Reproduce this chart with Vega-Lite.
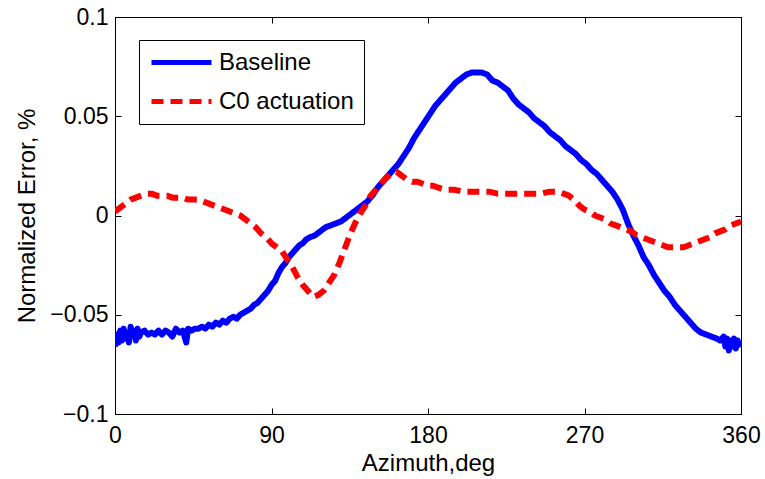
{
  "$schema": "https://vega.github.io/schema/vega-lite/v6.json",
  "autosize": "none",
  "width": 626,
  "height": 397,
  "padding": {"left": 115, "top": 17, "right": 24, "bottom": 65},
  "background": "white",
  "config": {
    "font": "Liberation Sans",
    "view": {"stroke": "black", "strokeWidth": 1},
    "axis": {"domainColor": "black", "tickColor": "black", "labelColor": "black", "titleColor": "black", "grid": false, "labelFont": "Liberation Sans", "titleFont": "Liberation Sans", "titleFontWeight": "normal"}
  },
  "data": {"values": [
    {"az":0,"err":-0.066,"series":"Baseline"},{"az":1,"err":-0.060,"series":"Baseline"},{"az":2,"err":-0.064,"series":"Baseline"},{"az":3,"err":-0.058,"series":"Baseline"},{"az":4,"err":-0.063,"series":"Baseline"},{"az":5,"err":-0.057,"series":"Baseline"},{"az":6,"err":-0.062,"series":"Baseline"},{"az":7,"err":-0.059,"series":"Baseline"},{"az":8,"err":-0.064,"series":"Baseline"},{"az":9,"err":-0.056,"series":"Baseline"},{"az":10,"err":-0.060,"series":"Baseline"},{"az":11,"err":-0.058,"series":"Baseline"},{"az":12,"err":-0.063,"series":"Baseline"},{"az":13,"err":-0.057,"series":"Baseline"},{"az":14,"err":-0.061,"series":"Baseline"},{"az":15,"err":-0.059,"series":"Baseline"},{"az":17,"err":-0.058,"series":"Baseline"},{"az":19,"err":-0.060,"series":"Baseline"},{"az":21,"err":-0.059,"series":"Baseline"},{"az":23,"err":-0.060,"series":"Baseline"},{"az":25,"err":-0.058,"series":"Baseline"},{"az":27,"err":-0.060,"series":"Baseline"},{"az":29,"err":-0.058,"series":"Baseline"},{"az":31,"err":-0.059,"series":"Baseline"},{"az":33,"err":-0.061,"series":"Baseline"},{"az":35,"err":-0.057,"series":"Baseline"},{"az":37,"err":-0.059,"series":"Baseline"},{"az":39,"err":-0.058,"series":"Baseline"},{"az":41,"err":-0.064,"series":"Baseline"},{"az":42,"err":-0.057,"series":"Baseline"},{"az":44,"err":-0.058,"series":"Baseline"},{"az":46,"err":-0.057,"series":"Baseline"},{"az":48,"err":-0.057,"series":"Baseline"},{"az":50,"err":-0.056,"series":"Baseline"},{"az":52,"err":-0.057,"series":"Baseline"},{"az":54,"err":-0.055,"series":"Baseline"},{"az":56,"err":-0.056,"series":"Baseline"},{"az":58,"err":-0.054,"series":"Baseline"},{"az":60,"err":-0.055,"series":"Baseline"},{"az":62,"err":-0.053,"series":"Baseline"},{"az":64,"err":-0.054,"series":"Baseline"},{"az":66,"err":-0.052,"series":"Baseline"},{"az":68,"err":-0.051,"series":"Baseline"},{"az":70,"err":-0.052,"series":"Baseline"},{"az":72,"err":-0.050,"series":"Baseline"},{"az":74,"err":-0.049,"series":"Baseline"},{"az":76,"err":-0.048,"series":"Baseline"},{"az":78,"err":-0.047,"series":"Baseline"},{"az":80,"err":-0.045,"series":"Baseline"},{"az":82,"err":-0.044,"series":"Baseline"},{"az":84,"err":-0.042,"series":"Baseline"},{"az":86,"err":-0.040,"series":"Baseline"},{"az":88,"err":-0.038,"series":"Baseline"},{"az":90,"err":-0.035,"series":"Baseline"},{"az":92,"err":-0.033,"series":"Baseline"},{"az":94,"err":-0.029,"series":"Baseline"},{"az":96,"err":-0.026,"series":"Baseline"},{"az":98,"err":-0.024,"series":"Baseline"},{"az":100,"err":-0.021,"series":"Baseline"},{"az":102,"err":-0.019,"series":"Baseline"},{"az":104,"err":-0.017,"series":"Baseline"},{"az":106,"err":-0.015,"series":"Baseline"},{"az":108,"err":-0.014,"series":"Baseline"},{"az":110,"err":-0.012,"series":"Baseline"},{"az":112,"err":-0.011,"series":"Baseline"},{"az":115,"err":-0.010,"series":"Baseline"},{"az":118,"err":-0.008,"series":"Baseline"},{"az":121,"err":-0.006,"series":"Baseline"},{"az":124,"err":-0.005,"series":"Baseline"},{"az":127,"err":-0.004,"series":"Baseline"},{"az":130,"err":-0.003,"series":"Baseline"},{"az":133,"err":-0.001,"series":"Baseline"},{"az":136,"err":0.001,"series":"Baseline"},{"az":139,"err":0.003,"series":"Baseline"},{"az":142,"err":0.005,"series":"Baseline"},{"az":145,"err":0.007,"series":"Baseline"},{"az":148,"err":0.010,"series":"Baseline"},{"az":151,"err":0.014,"series":"Baseline"},{"az":154,"err":0.017,"series":"Baseline"},{"az":157,"err":0.020,"series":"Baseline"},{"az":160,"err":0.023,"series":"Baseline"},{"az":163,"err":0.026,"series":"Baseline"},{"az":166,"err":0.030,"series":"Baseline"},{"az":169,"err":0.034,"series":"Baseline"},{"az":172,"err":0.039,"series":"Baseline"},{"az":175,"err":0.043,"series":"Baseline"},{"az":178,"err":0.047,"series":"Baseline"},{"az":181,"err":0.051,"series":"Baseline"},{"az":184,"err":0.055,"series":"Baseline"},{"az":187,"err":0.058,"series":"Baseline"},{"az":190,"err":0.061,"series":"Baseline"},{"az":193,"err":0.064,"series":"Baseline"},{"az":196,"err":0.067,"series":"Baseline"},{"az":199,"err":0.069,"series":"Baseline"},{"az":202,"err":0.071,"series":"Baseline"},{"az":205,"err":0.072,"series":"Baseline"},{"az":208,"err":0.072,"series":"Baseline"},{"az":211,"err":0.072,"series":"Baseline"},{"az":214,"err":0.071,"series":"Baseline"},{"az":217,"err":0.068,"series":"Baseline"},{"az":220,"err":0.067,"series":"Baseline"},{"az":223,"err":0.065,"series":"Baseline"},{"az":226,"err":0.063,"series":"Baseline"},{"az":229,"err":0.059,"series":"Baseline"},{"az":232,"err":0.056,"series":"Baseline"},{"az":235,"err":0.054,"series":"Baseline"},{"az":238,"err":0.052,"series":"Baseline"},{"az":241,"err":0.049,"series":"Baseline"},{"az":244,"err":0.047,"series":"Baseline"},{"az":247,"err":0.045,"series":"Baseline"},{"az":250,"err":0.042,"series":"Baseline"},{"az":253,"err":0.040,"series":"Baseline"},{"az":256,"err":0.038,"series":"Baseline"},{"az":259,"err":0.035,"series":"Baseline"},{"az":262,"err":0.033,"series":"Baseline"},{"az":265,"err":0.031,"series":"Baseline"},{"az":268,"err":0.028,"series":"Baseline"},{"az":271,"err":0.026,"series":"Baseline"},{"az":274,"err":0.023,"series":"Baseline"},{"az":277,"err":0.021,"series":"Baseline"},{"az":280,"err":0.018,"series":"Baseline"},{"az":283,"err":0.015,"series":"Baseline"},{"az":286,"err":0.012,"series":"Baseline"},{"az":289,"err":0.008,"series":"Baseline"},{"az":292,"err":0.003,"series":"Baseline"},{"az":295,"err":-0.004,"series":"Baseline"},{"az":298,"err":-0.010,"series":"Baseline"},{"az":301,"err":-0.015,"series":"Baseline"},{"az":304,"err":-0.021,"series":"Baseline"},{"az":307,"err":-0.025,"series":"Baseline"},{"az":310,"err":-0.030,"series":"Baseline"},{"az":313,"err":-0.034,"series":"Baseline"},{"az":316,"err":-0.038,"series":"Baseline"},{"az":319,"err":-0.041,"series":"Baseline"},{"az":322,"err":-0.045,"series":"Baseline"},{"az":325,"err":-0.048,"series":"Baseline"},{"az":328,"err":-0.051,"series":"Baseline"},{"az":331,"err":-0.054,"series":"Baseline"},{"az":334,"err":-0.057,"series":"Baseline"},{"az":337,"err":-0.059,"series":"Baseline"},{"az":340,"err":-0.060,"series":"Baseline"},{"az":343,"err":-0.061,"series":"Baseline"},{"az":346,"err":-0.062,"series":"Baseline"},{"az":348,"err":-0.063,"series":"Baseline"},{"az":350,"err":-0.061,"series":"Baseline"},{"az":351,"err":-0.066,"series":"Baseline"},{"az":352,"err":-0.062,"series":"Baseline"},{"az":353,"err":-0.068,"series":"Baseline"},{"az":354,"err":-0.063,"series":"Baseline"},{"az":355,"err":-0.066,"series":"Baseline"},{"az":356,"err":-0.062,"series":"Baseline"},{"az":357,"err":-0.067,"series":"Baseline"},{"az":358,"err":-0.063,"series":"Baseline"},{"az":359,"err":-0.065,"series":"Baseline"},{"az":360,"err":-0.064,"series":"Baseline"},
    {"az":0,"err":0.002,"series":"C0 actuation"},{"az":3,"err":0.004,"series":"C0 actuation"},{"az":6,"err":0.006,"series":"C0 actuation"},{"az":9,"err":0.008,"series":"C0 actuation"},{"az":12,"err":0.009,"series":"C0 actuation"},{"az":15,"err":0.010,"series":"C0 actuation"},{"az":18,"err":0.011,"series":"C0 actuation"},{"az":21,"err":0.011,"series":"C0 actuation"},{"az":24,"err":0.010,"series":"C0 actuation"},{"az":27,"err":0.010,"series":"C0 actuation"},{"az":30,"err":0.010,"series":"C0 actuation"},{"az":33,"err":0.009,"series":"C0 actuation"},{"az":36,"err":0.009,"series":"C0 actuation"},{"az":39,"err":0.009,"series":"C0 actuation"},{"az":42,"err":0.008,"series":"C0 actuation"},{"az":45,"err":0.008,"series":"C0 actuation"},{"az":48,"err":0.008,"series":"C0 actuation"},{"az":51,"err":0.007,"series":"C0 actuation"},{"az":54,"err":0.006,"series":"C0 actuation"},{"az":57,"err":0.005,"series":"C0 actuation"},{"az":60,"err":0.004,"series":"C0 actuation"},{"az":63,"err":0.003,"series":"C0 actuation"},{"az":66,"err":0.002,"series":"C0 actuation"},{"az":69,"err":0.001,"series":"C0 actuation"},{"az":72,"err":0.000,"series":"C0 actuation"},{"az":75,"err":-0.002,"series":"C0 actuation"},{"az":78,"err":-0.004,"series":"C0 actuation"},{"az":81,"err":-0.006,"series":"C0 actuation"},{"az":84,"err":-0.009,"series":"C0 actuation"},{"az":87,"err":-0.011,"series":"C0 actuation"},{"az":90,"err":-0.014,"series":"C0 actuation"},{"az":93,"err":-0.016,"series":"C0 actuation"},{"az":96,"err":-0.018,"series":"C0 actuation"},{"az":99,"err":-0.022,"series":"C0 actuation"},{"az":102,"err":-0.026,"series":"C0 actuation"},{"az":105,"err":-0.031,"series":"C0 actuation"},{"az":108,"err":-0.035,"series":"C0 actuation"},{"az":111,"err":-0.038,"series":"C0 actuation"},{"az":114,"err":-0.041,"series":"C0 actuation"},{"az":117,"err":-0.040,"series":"C0 actuation"},{"az":120,"err":-0.038,"series":"C0 actuation"},{"az":123,"err":-0.034,"series":"C0 actuation"},{"az":126,"err":-0.030,"series":"C0 actuation"},{"az":129,"err":-0.024,"series":"C0 actuation"},{"az":132,"err":-0.017,"series":"C0 actuation"},{"az":135,"err":-0.010,"series":"C0 actuation"},{"az":138,"err":-0.004,"series":"C0 actuation"},{"az":141,"err":0.001,"series":"C0 actuation"},{"az":144,"err":0.005,"series":"C0 actuation"},{"az":147,"err":0.010,"series":"C0 actuation"},{"az":150,"err":0.013,"series":"C0 actuation"},{"az":153,"err":0.016,"series":"C0 actuation"},{"az":156,"err":0.019,"series":"C0 actuation"},{"az":159,"err":0.021,"series":"C0 actuation"},{"az":162,"err":0.022,"series":"C0 actuation"},{"az":165,"err":0.020,"series":"C0 actuation"},{"az":168,"err":0.018,"series":"C0 actuation"},{"az":171,"err":0.017,"series":"C0 actuation"},{"az":174,"err":0.017,"series":"C0 actuation"},{"az":177,"err":0.016,"series":"C0 actuation"},{"az":180,"err":0.015,"series":"C0 actuation"},{"az":183,"err":0.015,"series":"C0 actuation"},{"az":186,"err":0.014,"series":"C0 actuation"},{"az":190,"err":0.013,"series":"C0 actuation"},{"az":195,"err":0.013,"series":"C0 actuation"},{"az":200,"err":0.012,"series":"C0 actuation"},{"az":205,"err":0.012,"series":"C0 actuation"},{"az":210,"err":0.012,"series":"C0 actuation"},{"az":215,"err":0.012,"series":"C0 actuation"},{"az":220,"err":0.011,"series":"C0 actuation"},{"az":225,"err":0.011,"series":"C0 actuation"},{"az":230,"err":0.011,"series":"C0 actuation"},{"az":235,"err":0.011,"series":"C0 actuation"},{"az":240,"err":0.011,"series":"C0 actuation"},{"az":245,"err":0.011,"series":"C0 actuation"},{"az":250,"err":0.012,"series":"C0 actuation"},{"az":255,"err":0.012,"series":"C0 actuation"},{"az":258,"err":0.011,"series":"C0 actuation"},{"az":261,"err":0.010,"series":"C0 actuation"},{"az":264,"err":0.008,"series":"C0 actuation"},{"az":267,"err":0.005,"series":"C0 actuation"},{"az":270,"err":0.003,"series":"C0 actuation"},{"az":273,"err":0.002,"series":"C0 actuation"},{"az":276,"err":0.000,"series":"C0 actuation"},{"az":279,"err":-0.001,"series":"C0 actuation"},{"az":282,"err":-0.002,"series":"C0 actuation"},{"az":285,"err":-0.004,"series":"C0 actuation"},{"az":288,"err":-0.005,"series":"C0 actuation"},{"az":291,"err":-0.006,"series":"C0 actuation"},{"az":294,"err":-0.007,"series":"C0 actuation"},{"az":297,"err":-0.008,"series":"C0 actuation"},{"az":300,"err":-0.010,"series":"C0 actuation"},{"az":303,"err":-0.011,"series":"C0 actuation"},{"az":306,"err":-0.012,"series":"C0 actuation"},{"az":309,"err":-0.013,"series":"C0 actuation"},{"az":312,"err":-0.014,"series":"C0 actuation"},{"az":315,"err":-0.015,"series":"C0 actuation"},{"az":318,"err":-0.016,"series":"C0 actuation"},{"az":321,"err":-0.016,"series":"C0 actuation"},{"az":324,"err":-0.016,"series":"C0 actuation"},{"az":327,"err":-0.016,"series":"C0 actuation"},{"az":330,"err":-0.015,"series":"C0 actuation"},{"az":333,"err":-0.014,"series":"C0 actuation"},{"az":336,"err":-0.013,"series":"C0 actuation"},{"az":339,"err":-0.012,"series":"C0 actuation"},{"az":342,"err":-0.011,"series":"C0 actuation"},{"az":345,"err":-0.009,"series":"C0 actuation"},{"az":348,"err":-0.008,"series":"C0 actuation"},{"az":351,"err":-0.007,"series":"C0 actuation"},{"az":354,"err":-0.005,"series":"C0 actuation"},{"az":357,"err":-0.004,"series":"C0 actuation"},{"az":360,"err":-0.003,"series":"C0 actuation"}
  ]},
  "layer": [
    {
      "mark": {"type": "line", "strokeWidth": 6, "strokeCap": "butt", "strokeJoin": "round", "clip": true},
      "encoding": {
        "x": {"field": "az", "type": "quantitative", "scale": {"domain": [0, 360], "nice": false, "zero": false},
              "axis": {"orient": "bottom", "values": [0, 90, 180, 270, 360], "title": "Azimuth,deg", "titleFontSize": 24, "labelFontSize": 23, "tickSize": -6, "labelPadding": 16, "titlePadding": 4, "labelFlush": false}},
        "y": {"field": "err", "type": "quantitative", "scale": {"domain": [-0.1, 0.1], "nice": false, "zero": false},
              "axis": {"orient": "left", "values": [-0.1, -0.05, 0, 0.05, 0.1], "format": "~g", "title": "Normalized Error, %", "titleFontSize": 24, "labelFontSize": 23, "tickSize": -6, "labelPadding": 13, "titlePadding": 10, "labelFlush": false}},
        "color": {"field": "series", "type": "nominal", "title": null,
                  "scale": {"domain": ["Baseline", "C0 actuation"], "range": ["#0000ff", "#ff0000"]},
                  "legend": {"orient": "none", "legendX": 24, "legendY": 23, "strokeColor": "black", "fillColor": "white", "padding": 10, "symbolType": "M-1,0L5,0", "symbolSize": 400, "symbolStrokeWidth": 5, "symbolFillColor": "transparent", "labelFontSize": 24, "labelFont": "Liberation Sans", "labelColor": "black", "labelOffset": 45, "rowPadding": 14}},
        "strokeDash": {"field": "series", "type": "nominal", "title": null,
                       "scale": {"domain": ["Baseline", "C0 actuation"], "range": [[1, 0], [12, 7]]}}
      }
    },
    {
      "mark": {"type": "point", "opacity": 0},
      "encoding": {
        "x": {"field": "az", "type": "quantitative",
              "axis": {"orient": "top", "values": [0, 90, 180, 270, 360], "labels": false, "title": null, "tickSize": -6}},
        "y": {"field": "err", "type": "quantitative",
              "axis": {"orient": "right", "values": [-0.1, -0.05, 0, 0.05, 0.1], "labels": false, "title": null, "tickSize": -6}}
      }
    }
  ],
  "resolve": {"axis": {"x": "independent", "y": "independent"}}
}
